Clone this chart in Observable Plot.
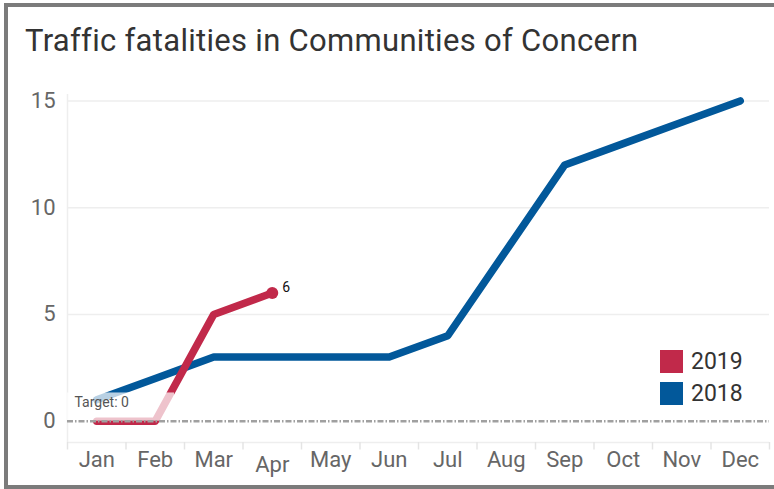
<!DOCTYPE html>
<html><head><meta charset="utf-8">
<script src="https://cdn.jsdelivr.net/npm/d3@7"></script>
<script src="https://cdn.jsdelivr.net/npm/@observablehq/plot@0.6"></script>
<style>
body{margin:0;background:#fff;font-family:Roboto,"Liberation Sans",Arial,sans-serif;}
#wrap{position:relative;width:774px;height:489px;overflow:hidden;}
#frame{position:absolute;left:4px;top:3px;width:800px;height:478px;border:4px solid #7b7b7b;border-right:none;box-sizing:content-box;}
#title{position:absolute;left:25px;top:23px;font-size:31px;letter-spacing:0.3px;color:#333;white-space:nowrap;line-height:36px;}
#chart{position:absolute;left:0;top:0;}
.leg{position:absolute;left:660px;font-size:23px;color:#333;display:flex;align-items:center;line-height:23px;}
.leg span.sw{display:inline-block;width:23px;height:23px;margin-right:8px;}
</style></head>
<body><div id="wrap"><div id="frame"></div><div id="chart"></div><div id="title">Traffic fatalities in Communities of Concern</div>
<div class="leg" style="top:350px"><span class="sw" style="background:#c1294a"></span>2019</div>
<div class="leg" style="top:382px"><span class="sw" style="background:#02589a"></span>2018</div>
</div>
<script>
const months = ["Jan","Feb","Mar","Apr","May","Jun","Jul","Aug","Sep","Oct","Nov","Dec"];
const values2018 = [1,2,3,3,3,3,4,8,12,13,14,15];
const values2019 = [0,0,5,6];
const yTicks = [0,5,10,15];
const target = 0;
const c2018 = "#02589a", c2019 = "#c1294a";

const d18 = values2018.map((v,i)=>({m:i,v}));
const d19 = values2019.map((v,i)=>({m:i,v}));
const last19 = d19[d19.length-1];
const bounds = d3.range(13).map(i=>i-0.5);

const plot = Plot.plot({
  width:774, height:489,
  marginLeft:67, marginRight:5, marginTop:94, marginBottom:47,
  style:{fontFamily:"Roboto, Liberation Sans, Arial, sans-serif", background:"transparent", overflow:"visible"},
  x:{type:"linear", domain:[-0.5,11.5]},
  y:{domain:[-1,15.3]},
  marks:[
    Plot.ruleY(yTicks.filter(t=>t!==0), {stroke:"#eeeeee", strokeWidth:1.5}),
    Plot.ruleX([-0.5], {y1:-1, y2:15.3, stroke:"#eeeeee", strokeWidth:1.5}),
    Plot.ruleY([-1], {stroke:"#eeeeee", strokeWidth:1.5}),
    Plot.ruleX(bounds, {x:d=>d, y1:-1, y2:-1.35, stroke:"#e4e4e4", strokeWidth:1.5}),
    Plot.axisY({ticks:yTicks, tickSize:0, tickPadding:12, fontSize:22, fill:"#666", label:null}),
    Plot.axisX({ticks:d3.range(12).filter(i=>i!==3), tickFormat:i=>months[i], tickSize:0, tickPadding:9, fontSize:22, fill:"#666", label:null}),
    Plot.axisX({ticks:[3], tickFormat:i=>months[i], tickSize:0, tickPadding:14, fontSize:22, fill:"#666", label:null}),
    Plot.line(d18, {x:"m", y:"v", stroke:c2018, strokeWidth:7.5, strokeLinecap:"round", strokeLinejoin:"round"}),
    Plot.line(d19, {x:"m", y:"v", stroke:c2019, strokeWidth:7.5, strokeLinecap:"round", strokeLinejoin:"round"}),
    Plot.dot([last19], {x:"m", y:"v", r:6, fill:c2019}),
    Plot.text([last19], {x:"m", y:"v", text:d=>String(d.v), dx:10, dy:-6, fontSize:14, fill:"#111", textAnchor:"start"}),
    Plot.rect([{x1:-0.5,x2:1.33,y1:target,y2:1.32}], {x1:"x1",x2:"x2",y1:"y1",y2:"y2", fill:"#fff", fillOpacity:0.72}),
    Plot.ruleY([target], {stroke:"#a0a0a0", strokeWidth:2.5, strokeDasharray:"6,2,1.5,2"}),
    Plot.text([target], {x:-0.5, y:target, text:d=>"Target: "+d, dx:7, dy:-19, fontSize:14, fill:"#555", textAnchor:"start"})
  ]
});
document.getElementById("chart").appendChild(plot);
</script></body></html>
